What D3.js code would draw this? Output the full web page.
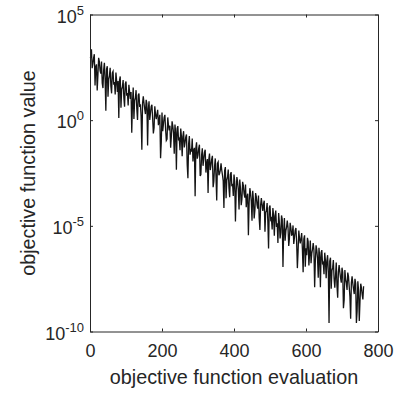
<!DOCTYPE html>
<html>
<head>
<meta charset="utf-8">
<script src="https://cdn.jsdelivr.net/npm/d3@7"></script>
<style>
  body { margin: 0; background: #fff; }
  text { font-family: "Liberation Sans", Arial, Helvetica, sans-serif; fill: #262626; }
</style>
</head>
<body>
<div id="chart"></div>
<script>
// log10 of the objective, read at evaluations 0, 4, 8, ... 760
var evalStep = 4;
var logValues = [
  2.95, 3.35, 2.68, 3.12, 2.52, 1.40, 2.95, 2.34, 2.78, 1.52,
  2.71, 0.45, 2.55, 1.94, 2.48, 1.27, 2.31, 1.80, 2.25, 1.34,
  0.10, 2.07, 1.46, 1.90, 0.64, 1.83, 1.28, 1.67, 1.01, -0.60,
  1.54, 0.93, 1.42, 0.01, 1.26, 0.75, -1.40, 1.13, 0.52, 0.96,
  -1.20, 0.89, 0.34, 0.73, -0.63, 0.66, 0.05, 0.49, 0.03, -1.80,
  0.36, -0.19, 0.25, -0.96, 0.13, -0.48, -1.30, -0.05, -0.60, -0.21,
  -2.35, -0.28, -0.89, -0.40, -1.71, -0.52, -1.07, -0.68, -2.75, -0.75,
  -1.36, -0.87, -1.43, -3.60, -1.05, -1.66, -1.16, -2.57, -1.33, -1.84,
  -1.40, -2.06, -3.45, -1.58, -2.14, -1.69, -2.90, -1.81, -3.80, -1.98,
  -2.53, -2.04, -2.60, -4.15, -2.22, -2.83, -2.34, -3.65, -2.46, -3.01,
  -2.57, -4.80, -2.69, -3.30, -2.81, -4.02, -2.92, -3.48, -3.04, -3.65,
  -5.45, -3.22, -3.83, -3.34, -4.65, -3.45, -4.01, -3.57, -5.20, -3.69,
  -4.30, -3.81, -4.37, -3.92, -6.07, -4.04, -4.65, -4.16, -5.47, -4.28,
  -4.88, -4.39, -5.60, -4.51, -6.95, -4.63, -5.24, -4.75, -5.95, -4.86,
  -5.47, -4.98, -5.54, -5.10, -7.00, -5.22, -5.83, -5.34, -7.20, -5.45,
  -6.06, -5.57, -6.88, -5.69, -6.30, -5.81, -7.90, -5.92, -6.53, -6.04,
  -7.90, -6.15, -6.76, -6.27, -7.48, -6.39, -9.60, -6.51, -7.12, -6.62,
  -7.93, -6.74, -8.40, -6.86, -7.47, -6.98, -8.90, -7.09, -7.70, -7.21,
  -7.87, -9.40, -7.39, -8.00, -7.51, -9.60, -7.62, -9.50, -7.74, -8.25,
  -7.86
];
// log10 of the objective at the evaluations in between (2, 6, 10, ... 758)
var logValuesMid = [
  2.97, 2.46, 2.95, 1.64, 2.64, 2.13, 2.77, 2.21, 1.75, 2.39,
  1.93, 2.42, 1.11, 2.10, 1.60, 2.24, 1.68, 1.22, 1.86, 1.85,
  1.90, 0.59, 1.58, 1.07, 1.72, 1.16, 0.70, 1.34, 1.33, 0.82,
  0.06, 1.05, 0.54, 1.18, 0.63, 0.17, 0.81, 0.80, 0.29, 0.78,
  0.52, 0.01, 0.65, 0.09, -0.36, 0.28, 0.27, -0.24, 0.25, -1.06,
  -0.52, 0.13, -0.44, -0.90, -0.25, -0.26, -0.77, -0.28, -1.59, -0.60,
  -0.40, -0.96, -1.42, -0.78, -0.78, -1.29, -0.80, -2.11, -1.12, -1.63,
  -1.49, -1.95, -1.31, -1.32, -1.82, -1.33, -2.64, -1.65, -2.16, -1.52,
  -2.48, -1.84, -1.85, -2.36, -1.86, -3.17, -2.18, -2.69, -2.05, -2.61,
  -2.36, -2.37, -2.88, -2.39, -3.69, -2.70, -3.21, -2.57, -3.13, -3.59,
  -2.90, -3.41, -2.92, -4.23, -3.23, -3.74, -3.10, -3.66, -4.12, -3.48,
  -3.94, -3.45, -4.76, -3.77, -4.27, -3.63, -4.19, -4.65, -4.01, -4.02,
  -3.97, -5.28, -4.29, -4.80, -4.15, -4.71, -5.17, -4.53, -4.54, -5.05,
  -5.81, -4.82, -5.33, -4.69, -5.24, -5.70, -5.06, -5.07, -5.58, -5.09,
  -5.35, -5.86, -5.22, -5.78, -6.23, -5.59, -5.60, -6.11, -5.62, -6.93,
  -6.39, -5.75, -6.31, -6.77, -6.12, -6.13, -6.64, -6.15, -7.46, -6.47,
  -6.27, -6.83, -7.29, -6.65, -6.65, -7.16, -6.67, -7.98, -6.99, -7.50,
  -7.36, -7.82, -7.18, -7.19, -7.69, -7.20, -8.51, -7.52, -8.03, -7.39,
  -8.35, -7.71, -7.72, -8.23, -7.73, -9.04, -8.05, -8.56, -7.92, -8.48
];
var xTicks = [0, 200, 400, 600, 800];
var yExponents = [5, 0, -5, -10];
var xLabel = "objective function evaluation";
var yLabel = "objective function value";

var W = 396, H = 393;
var margin = {left: 90, right: 18, top: 14.5, bottom: 61.5};

var svg = d3.select("#chart").append("svg")
  .attr("width", W)
  .attr("height", H);

var x = d3.scaleLinear().domain([0, 800]).range([margin.left, W - margin.right]);
var y = d3.scaleLog().domain([1e-10, 1e5]).range([H - margin.bottom, margin.top]);

var data = [];
logValues.forEach(function(v, i){ data.push({n: i * evalStep, v: Math.pow(10, v)}); });
logValuesMid.forEach(function(v, i){ data.push({n: i * evalStep + evalStep / 2, v: Math.pow(10, v)}); });
data.sort(function(a, b){ return a.n - b.n; });

// the curve
var line = d3.line()
  .x(function(d){ return x(d.n); })
  .y(function(d){ return y(d.v); });

svg.append("path")
  .datum(data)
  .attr("fill", "none")
  .attr("stroke", "#141414")
  .attr("stroke-width", 1.3)
  .attr("stroke-linejoin", "miter")
  .attr("d", line);

var axisColor = "#262626";
var yTickVals = yExponents.map(function(e){ return Math.pow(10, e); });

function styleAxis(g){
  g.select(".domain").attr("stroke", axisColor).attr("stroke-width", 1);
  g.selectAll(".tick line").attr("stroke", axisColor).attr("stroke-width", 1);
}

// bottom axis with labels
svg.append("g")
  .attr("transform", "translate(0," + (H - margin.bottom) + ")")
  .call(d3.axisBottom(x).tickValues(xTicks).tickSizeInner(-3).tickSizeOuter(0).tickPadding(13))
  .call(styleAxis)
  .call(function(g){
    g.selectAll(".tick text")
      .attr("font-size", 18)
      .attr("font-family", "Liberation Sans, Arial, sans-serif")
      .attr("fill", axisColor);
  });

// top axis, ticks only
svg.append("g")
  .attr("transform", "translate(0," + margin.top + ")")
  .call(d3.axisTop(x).tickValues(xTicks).tickSizeInner(-3).tickSizeOuter(0).tickFormat(""))
  .call(styleAxis);

// left axis
svg.append("g")
  .attr("transform", "translate(" + margin.left + ",0)")
  .call(d3.axisLeft(y).tickValues(yTickVals).tickSizeInner(-3).tickSizeOuter(0).tickFormat(""))
  .call(styleAxis);

// right axis
svg.append("g")
  .attr("transform", "translate(" + (W - margin.right) + ",0)")
  .call(d3.axisRight(y).tickValues(yTickVals).tickSizeInner(-3).tickSizeOuter(0).tickFormat(""))
  .call(styleAxis);

// y tick labels as 10 with superscript
var yLab = svg.append("g").selectAll("text")
  .data(yExponents)
  .enter()
  .append("text")
  .attr("text-anchor", "end")
  .attr("x", margin.left - 6)
  .attr("y", function(e){ return y(Math.pow(10, e)) + 8; })
  .attr("font-size", 18)
  .attr("fill", axisColor);

yLab.append("tspan").text("10");
yLab.append("tspan")
  .attr("font-size", 13)
  .attr("dy", -8)
  .text(function(e){ return e < 0 ? "-" + Math.abs(e) : String(e); });

// axis labels
svg.append("text")
  .attr("x", (x.range()[0] + x.range()[1]) / 2)
  .attr("y", 384)
  .attr("text-anchor", "middle")
  .attr("font-size", 19.8)
  .text(xLabel);

svg.append("text")
  .attr("transform", "translate(35," + ((y.range()[0] + y.range()[1]) / 2) + ") rotate(-90)")
  .attr("text-anchor", "middle")
  .attr("font-size", 19.8)
  .text(yLabel);
</script>
</body>
</html>
